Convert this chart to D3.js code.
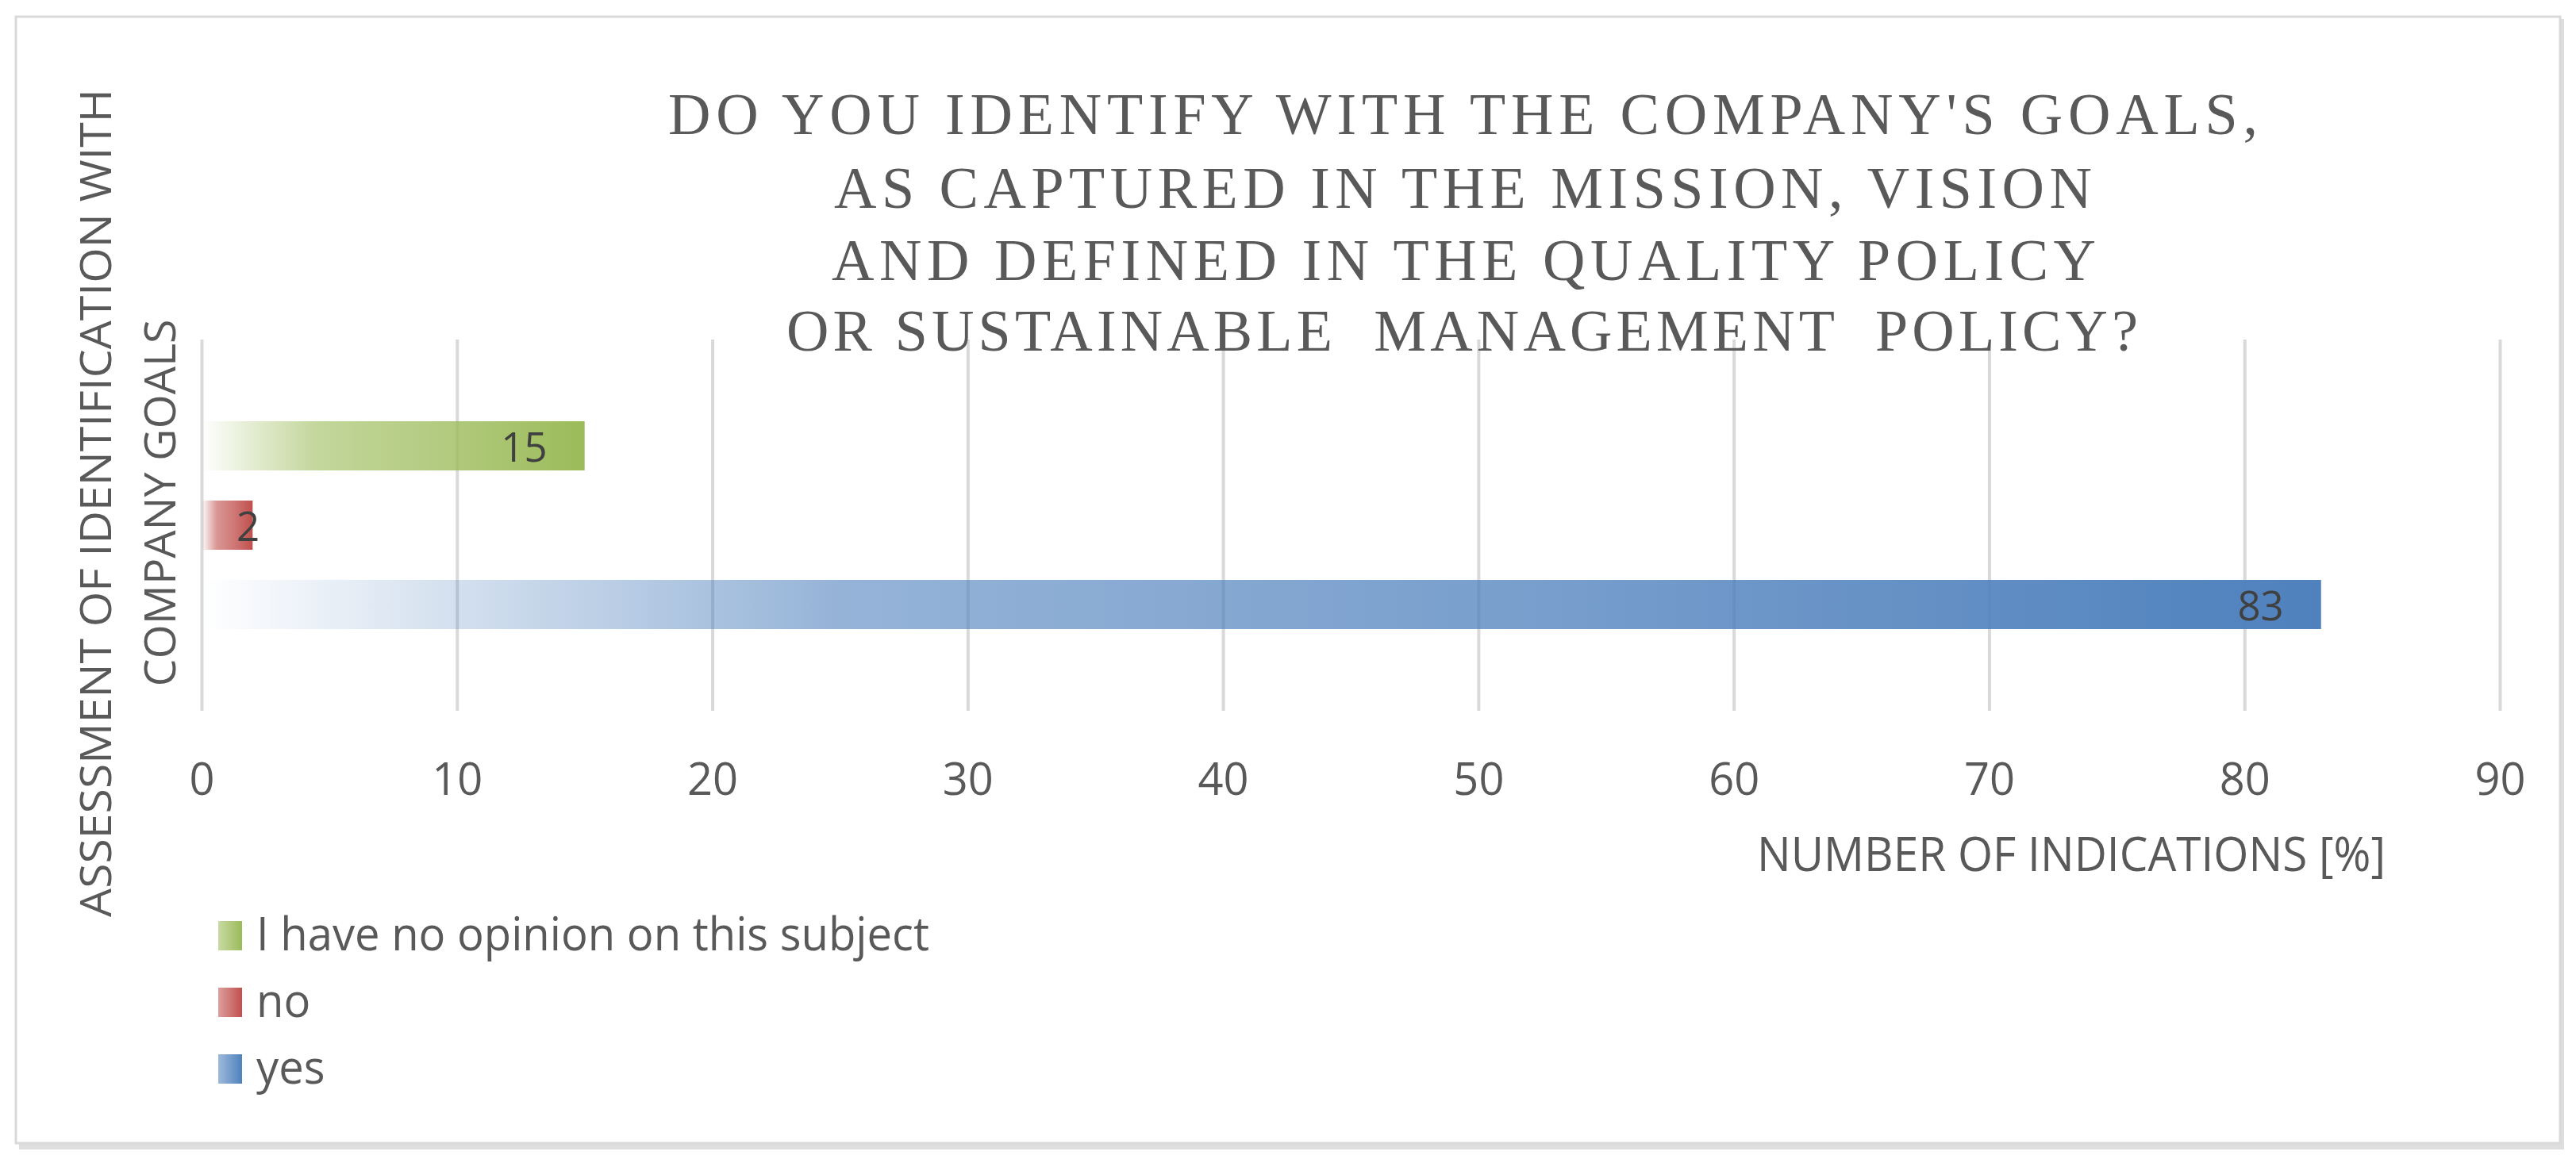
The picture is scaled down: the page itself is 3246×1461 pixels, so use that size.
<!DOCTYPE html>
<html>
<head>
<meta charset="utf-8">
<script src="https://cdn.jsdelivr.net/npm/d3@7"></script>
<style>
  html, body { margin: 0; padding: 0; background: #fff; }
</style>
</head>
<body>
<script>
  var W = 3246, H = 1461;

  // data
  var series = ["I have no opinion on this subject", "no", "yes"];
  var values = [15, 2, 83];
  var colors = ["#9bbb59", "#c0504d", "#4f81bd"];
  var xTicks = [0, 10, 20, 30, 40, 50, 60, 70, 80, 90];
  var titleLines = [
    "DO YOU IDENTIFY WITH THE COMPANY'S GOALS,",
    "AS CAPTURED IN THE MISSION, VISION",
    "AND DEFINED IN THE QUALITY POLICY",
    "OR SUSTAINABLE  MANAGEMENT  POLICY?"
  ];
  var yTitleLines = ["ASSESSMENT OF IDENTIFICATION WITH", "COMPANY GOALS"];
  var xTitle = "NUMBER OF INDICATIONS [%]";

  var sans = "'Open Sans', 'Noto Sans', sans-serif";
  var serif = "'Liberation Serif', 'DejaVu Serif', serif";

  var svg = d3.select("body").append("svg")
    .attr("width", W)
    .attr("height", H)
    .style("display", "block");

  svg.append("rect").attr("width", W).attr("height", H).attr("fill", "#fff");

  // outer frame with a soft shadow on right and bottom
  svg.append("line").attr("x1", 24).attr("x2", 3230).attr("y1", 1445).attr("y2", 1445)
    .attr("stroke", "#dedede").attr("stroke-width", 8);
  svg.append("line").attr("x1", 3228).attr("x2", 3228).attr("y1", 24).attr("y2", 1449)
    .attr("stroke", "#dedede").attr("stroke-width", 6);
  svg.append("rect")
    .attr("x", 20).attr("y", 21).attr("width", 3206).attr("height", 1420)
    .attr("fill", "#fff").attr("stroke", "#d9d9d9").attr("stroke-width", 3);

  /* gradients */
  var defs = svg.append("defs");
  var barStops = [[0, 0], [0.12, 0.25], [0.3, 0.6], [0.65, 0.78], [1, 1]];
  var keyStops = [[0, 0.55], [1, 1]];
  colors.forEach(function(c, i) {
    var g = defs.append("linearGradient").attr("id", "bar" + i)
      .attr("x1", 0).attr("x2", 1).attr("y1", 0).attr("y2", 0);
    barStops.forEach(function(s) {
      g.append("stop").attr("offset", s[0]).attr("stop-color", c).attr("stop-opacity", s[1]);
    });
    var k = defs.append("linearGradient").attr("id", "key" + i)
      .attr("x1", 0).attr("x2", 1).attr("y1", 0).attr("y2", 0);
    keyStops.forEach(function(s) {
      k.append("stop").attr("offset", s[0]).attr("stop-color", c).attr("stop-opacity", s[1]);
    });
  });

  /* scales */
  var plotTop = 428, plotBottom = 896;
  var x = d3.scaleLinear().domain([0, 90]).range([254, 3150]);
  var y = d3.scaleBand().domain(series).range([531, 793])
    .paddingInner(0.38).paddingOuter(0);

  // gridlines + tick labels
  var axis = svg.append("g")
    .attr("transform", "translate(0," + plotBottom + ")")
    .call(d3.axisBottom(x).tickValues(xTicks)
      .tickSize(-(plotBottom - plotTop)).tickPadding(66).tickFormat(d3.format("d")));
  axis.select(".domain").remove();
  axis.selectAll(".tick line").attr("stroke", "#d9d9d9").attr("stroke-width", 4);
  axis.selectAll(".tick text")
    .attr("fill", "#595959")
    .style("font-family", sans)
    .style("font-size", "56px");

  /* bars */
  svg.append("g").selectAll("rect")
    .data(series)
    .join("rect")
    .attr("x", x(0))
    .attr("y", function(d) { return y(d); })
    .attr("width", function(d, i) { return x(values[i]) - x(0); })
    .attr("height", y.bandwidth())
    .attr("fill", function(d, i) { return "url(#bar" + i + ")"; });

  // data labels, inside end
  var labels = svg.append("g").selectAll("text")
    .data(series)
    .join("text")
    .attr("y", function(d) { return y(d) + y.bandwidth() / 2 + 20; })
    .attr("fill", "#404040")
    .style("font-family", sans)
    .style("font-size", "51px")
    .text(function(d, i) { return values[i]; });
  labels.attr("x", function(d, i) {
    var w = this.getComputedTextLength();
    return Math.max(x(values[i]) - 47 - w, x(0) + 44);
  });

  /* title */
  var titleStart = [842, 1051, 1048, 991];
  var titleLen = [2003, 1585, 1593, 1703];
  var titleBase = [169, 262, 353, 442];
  svg.append("g").selectAll("text")
    .data(titleLines)
    .join("text")
    .attr("x", function(d, i) { return titleStart[i]; })
    .attr("y", function(d, i) { return titleBase[i]; })
    .attr("textLength", function(d, i) { return titleLen[i]; })
    .attr("lengthAdjust", "spacing")
    .attr("fill", "#595959")
    .style("font-family", serif)
    .style("font-size", "74px")
    .style("white-space", "pre")
    .text(function(d) { return d; });

  /* y axis title (rotated) */
  var yTitleBase = [140, 221];
  var yTitleLen = [1044, 463];
  var yTitleMid = 634;
  svg.append("g").selectAll("text")
    .data(yTitleLines)
    .join("text")
    .attr("transform", function(d, i) {
      return "translate(" + yTitleBase[i] + "," + (yTitleMid + yTitleLen[i] / 2) + ") rotate(-90)";
    })
    .attr("x", 0).attr("y", 0)
    .attr("textLength", function(d, i) { return yTitleLen[i]; })
    .attr("lengthAdjust", "spacingAndGlyphs")
    .attr("fill", "#595959")
    .style("font-family", sans)
    .style("font-size", "54px")
    .text(function(d) { return d; });

  /* x axis title */
  svg.append("text")
    .attr("x", 2214).attr("y", 1098)
    .attr("textLength", 792)
    .attr("lengthAdjust", "spacingAndGlyphs")
    .attr("fill", "#595959")
    .style("font-family", sans)
    .style("font-size", "60px")
    .text(xTitle);

  /* legend */
  var legendBase = [1198, 1282, 1366];
  var legend = svg.append("g");
  legend.selectAll("rect")
    .data(series)
    .join("rect")
    .attr("x", 275)
    .attr("y", function(d, i) { return legendBase[i] - 37; })
    .attr("width", 30)
    .attr("height", 37)
    .attr("fill", function(d, i) { return "url(#key" + i + ")"; });
  var legendText = legend.selectAll("text")
    .data(series)
    .join("text")
    .attr("x", 323)
    .attr("y", function(d, i) { return legendBase[i]; })
    .attr("fill", "#595959")
    .style("font-family", sans)
    .style("font-size", "58px")
    .text(function(d) { return d; });
  // squeeze to the narrow width of the original face
  var longest = legendText.nodes()[0].getComputedTextLength();
  var squeeze = 848 / longest;
  legendText.each(function() {
    var n = this.getComputedTextLength();
    d3.select(this).attr("textLength", n * squeeze).attr("lengthAdjust", "spacingAndGlyphs");
  });
</script>
</body>
</html>
